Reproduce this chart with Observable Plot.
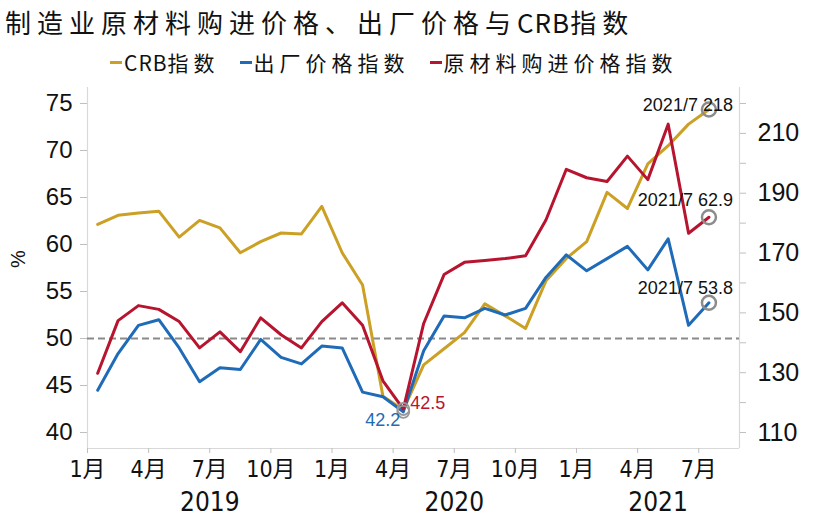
<!DOCTYPE html>
<html>
<head>
<meta charset="utf-8">
<script src="https://cdn.jsdelivr.net/npm/d3@7"></script>
<script src="https://cdn.jsdelivr.net/npm/@observablehq/plot@0.6"></script>
<style>
  body { margin: 0; background: #fff; }
  #title { height: 44px; line-height: 44px; padding-left: 5px; font-family: "Noto Sans CJK SC", sans-serif; font-size: 26px; letter-spacing: 6px; color: #111; white-space: nowrap; }
  #legend { height: 36px; display: flex; align-items: center; padding-left: 110px; font-family: "Noto Sans CJK SC", sans-serif; font-size: 21px; letter-spacing: 5px; color: #111; white-space: nowrap; }
  .item { display: flex; align-items: center; margin-right: 20px; }
  .sw { width: 12px; height: 3px; margin-right: 2px; }
  .lat { letter-spacing: 1px; }
</style>
</head>
<body>
<div id="title">制造业原材料购进价格、出厂价格与<span class="lat">CRB</span>指数</div>
<div id="legend"></div>
<div id="chart"></div>
<script>
const months = ["2019-01","2019-02","2019-03","2019-04","2019-05","2019-06","2019-07","2019-08","2019-09","2019-10","2019-11","2019-12",
  "2020-01","2020-02","2020-03","2020-04","2020-05","2020-06","2020-07","2020-08","2020-09","2020-10","2020-11","2020-12",
  "2021-01","2021-02","2021-03","2021-04","2021-05","2021-06","2021-07"];
// CRB指数 (right axis)
const crb = [179.6,182.6,183.4,184.0,175.3,180.9,178.4,170.1,173.8,176.7,176.4,185.6,
  170.1,159.3,122.1,117.6,132.6,138.0,143.4,153.0,149.0,144.8,160.7,168.2,
  173.8,190.3,184.9,199.8,205.9,213.1,218];
// 出厂价格指数 (%)
const outputPrice = [44.5,48.4,51.4,52.0,49.0,45.4,46.9,46.7,49.9,48.0,47.3,49.2,
  49.0,44.3,43.8,42.2,48.7,52.4,52.2,53.2,52.5,53.2,56.5,58.9,
  57.2,58.5,59.8,57.3,60.6,51.4,53.8];
// 原材料购进价格指数 (%)
const inputPrice = [46.3,51.9,53.5,53.1,51.8,49.0,50.7,48.6,52.2,50.4,49.0,51.8,
  53.8,51.4,45.5,42.5,51.6,56.8,58.1,58.3,58.5,58.8,62.6,68.0,
  67.1,66.7,69.4,66.9,72.8,61.2,62.9];
const seriesNames = ["CRB指数", "出厂价格指数", "原材料购进价格指数"];
const seriesColors = ["#CBA024", "#1F6BB8", "#B7142F"];
const leftTicks = [40, 45, 50, 55, 60, 65, 70, 75];
const rightTicks = [110, 120, 130, 140, 150, 160, 170, 180, 190, 200, 210, 220];
const rightLabelled = [110, 130, 150, 170, 190, 210];
const years = ["2019", "2020", "2021"];

// legend
const legend = document.getElementById("legend");
seriesNames.forEach((n, k) => {
  const it = document.createElement("div"); it.className = "item";
  const sw = document.createElement("div"); sw.className = "sw"; sw.style.background = seriesColors[k];
  const tx = document.createElement("span");
  const m = n.match(/^([A-Za-z]+)(.*)$/);
  if (m) { const a = document.createElement("span"); a.className = "lat"; a.textContent = m[1]; tx.appendChild(a); tx.appendChild(document.createTextNode(m[2])); }
  else tx.textContent = n;
  it.appendChild(sw); it.appendChild(tx); legend.appendChild(it);
});

// right scale mapping (right 110..220 <-> left 40..75)
const toLeft = v => 40 + (v - 110) * 35 / 110;
const toRight = v => 110 + (v - 40) * 110 / 35;

const xMax = 32;
const yDomain = [38.3, 76.7];
const rows = months.map((m, i) => ({m, i, x: i + 0.5, crb: crb[i], out: outputPrice[i], inp: inputPrice[i]}));
const last = rows[rows.length - 1];
const trough = rows[months.indexOf("2020-04")];
const lastLabel = last.m.slice(0, 4) + "/" + (+last.m.slice(5));
const endLabels = [
  {y: toLeft(last.crb), text: lastLabel + " " + last.crb, dy: -4},
  {y: last.inp, text: lastLabel + " " + last.inp.toFixed(1), dy: -17},
  {y: last.out, text: lastLabel + " " + last.out.toFixed(1), dy: -15}
];
const yearPos = years.map(y => {
  const s = months.indexOf(y + "-01");
  const e = Math.min(s + 12, xMax);
  return {y, x: (s + e) / 2};
});

const num = "Liberation Sans, Arial, sans-serif";
const narrow = "'Liberation Sans Narrow', 'DejaVu Sans Condensed', 'Noto Sans CJK SC', sans-serif";

const chart = Plot.plot({
  width: 821, height: 438,
  marginLeft: 87, marginRight: 82, marginTop: 7, marginBottom: 70,
  x: {domain: [0, xMax], axis: null},
  y: {domain: yDomain, axis: null},
  style: {fontFamily: num, background: "#fff", overflow: "visible"},
  marks: [
    Plot.ruleX([0, xMax], {stroke: "#d9d9d9", strokeWidth: 1.2}),
    Plot.ruleY([yDomain[0]], {stroke: "#d9d9d9", strokeWidth: 1.2}),
    Plot.ruleY([50], {stroke: "#8a8a8a", strokeWidth: 2, strokeDasharray: "7,4"}),
    Plot.axisY({anchor: "left", ticks: leftTicks, tickSize: 7, tickPadding: 8, fontSize: 24, fontFamily: num, stroke: "#bfbfbf", fill: "#111", label: null}),
    Plot.axisY({anchor: "right", ticks: rightTicks.map(toLeft), tickSize: 6, tickPadding: 12, fontSize: 25, fontFamily: num, stroke: "#bfbfbf", fill: "#111", label: null,
      tickFormat: v => { const r = Math.round(toRight(v)); return rightLabelled.includes(r) ? String(r) : ""; }}),
    Plot.axisX({ticks: d3.range(0, months.length, 3), tickSize: 5, tickPadding: 7, fontSize: 23, fontFamily: narrow, stroke: "#bfbfbf", fill: "#111", label: null,
      tickFormat: i => (+months[i].slice(5)) + "月"}),
    Plot.text(yearPos, {x: "x", text: "y", frameAnchor: "bottom", lineAnchor: "middle", dy: 54, fontSize: 26, fontFamily: narrow, fill: "#111"}),
    Plot.text(["%"], {frameAnchor: "left", dx: -69, rotate: -90, fontSize: 20, fill: "#111"}),
    Plot.line(rows, {x: "x", y: d => toLeft(d.crb), stroke: seriesColors[0], strokeWidth: 3}),
    Plot.line(rows, {x: "x", y: "out", stroke: seriesColors[1], strokeWidth: 3}),
    Plot.line(rows, {x: "x", y: "inp", stroke: seriesColors[2], strokeWidth: 3}),
    Plot.dot([trough.out, trough.inp], {x: trough.x, y: d => d, r: 6, stroke: "#999", strokeWidth: 1.8, fill: "none"}),
    Plot.dot([toLeft(last.crb), last.inp, last.out], {x: last.x, y: d => d, r: 7, stroke: "#8c8c8c", strokeWidth: 2.5, fill: "none"}),
    Plot.text([trough], {x: "x", y: "out", text: d => d.out.toFixed(1), textAnchor: "end", dx: -3, dy: 8, fontSize: 18, fill: seriesColors[1]}),
    Plot.text([trough], {x: "x", y: "inp", text: d => d.inp.toFixed(1), textAnchor: "start", dx: 7, dy: -6, fontSize: 18, fill: seriesColors[2]}),
    ...endLabels.map(d => Plot.text([d], {x: last.x, y: "y", text: "text", textAnchor: "end", dx: 24, dy: d.dy, fontSize: 18, fill: "#111"}))
  ]
});
document.getElementById("chart").appendChild(chart);
</script>
</body>
</html>
